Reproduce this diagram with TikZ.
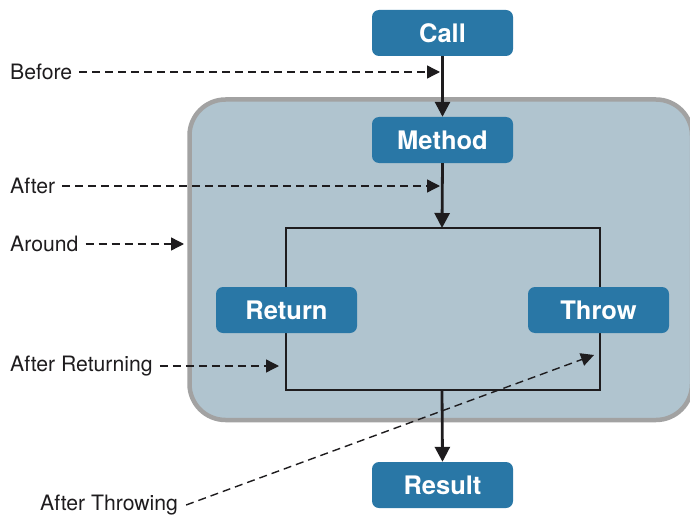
\documentclass[tikz,border=0pt]{standalone}
\usepackage{fontspec}
\setmainfont{TeX Gyre Heros}
\usetikzlibrary{arrows.meta}
\definecolor{boxblue}{RGB}{41,119,166}
\definecolor{panel}{RGB}{176,196,207}
\definecolor{panelborder}{RGB}{162,162,162}
\definecolor{ink}{RGB}{30,28,30}
\tikzset{
  stepbox/.style={rectangle, rounded corners=7pt, fill=boxblue, text=white,
    font=\fontsize{25.5}{30}\selectfont\bfseries, minimum width=141pt, minimum height=46pt, inner sep=0pt},
  lbl/.style={font=\fontsize{21.2}{25}\selectfont, text=ink, inner sep=0pt},
  flow/.style={draw=ink, line width=2.8pt, -{Triangle[length=15pt,width=15pt]}},
  hook/.style={draw=ink, line width=1.4pt, dash pattern=on 8pt off 5pt, -{Triangle[length=13pt,width=13pt]}},
}
\begin{document}
\begin{tikzpicture}[x=1pt,y=-1pt]
\useasboundingbox (0,0) rectangle (690,516);
% panel
\draw[panelborder, line width=4.5pt, fill=panel, rounded corners=36pt] (189.5,99.5) rectangle (692,420);
% inner frame
\draw[ink, line width=2.4pt] (286,228) rectangle (600,390);
\coordinate (ftop) at (442,228);
\coordinate (fbot) at (442,390);
% boxes
\node[stepbox] (call) at (442.5,33) {Call};
\node[stepbox] (method) at (442.5,140) {Method};
\node[stepbox] (ret) at (286.5,310) {Return};
\node[stepbox] (throw) at (598.5,310) {Throw};
\node[stepbox] (res) at (442.5,485) {Result};
% flow arrows
\draw[flow] (call.south) -- (method.north);
\draw[flow] (method.south) -- (ftop);
\draw[flow] (fbot) -- (res.north);
% labels
\node[lbl, anchor=west] (before) at (10,72) {Before};
\node[lbl, anchor=west] (after) at (10,186) {After};
\node[lbl, anchor=west] (around) at (10,244) {Around};
\node[lbl, anchor=west] (aret) at (10,366) {After Returning};
\node[lbl, anchor=west] (athr) at (40,505) {After Throwing};
\coordinate (tBefore) at (440,72);
\coordinate (tAfter) at (440,186);
\coordinate (tAround) at (184,244);
\coordinate (tRet) at (279,366);
\coordinate (tThr) at (594,355);
\draw[hook] ([xshift=7pt]before.east) -- (tBefore);
\draw[hook] ([xshift=7pt]after.east) -- (tAfter);
\draw[hook] ([xshift=7pt]around.east) -- (tAround);
\draw[hook] ([xshift=7pt]aret.east) -- (tRet);
\draw[hook] ([xshift=8pt]athr.east) -- (tThr);
\end{tikzpicture}
\end{document}
